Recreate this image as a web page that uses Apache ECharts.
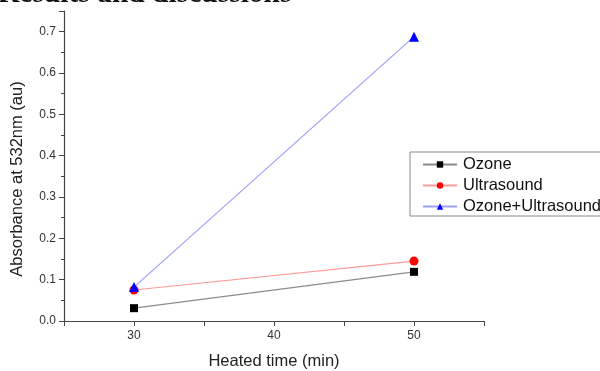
<!DOCTYPE html>
<html><head><meta charset="utf-8">
<script src="https://cdn.jsdelivr.net/npm/echarts@6/dist/echarts.min.js"></script>
<style>html,body{margin:0;padding:0;background:#fff}#c{width:600px;height:371px}</style>
</head><body><div id="c"></div>
<script>
var heatedTime = [30, 50];
var ozone = [0.031, 0.119];
var ultrasound = [0.075, 0.145];
var ozoneUltrasound = [0.082, 0.688];
var seriesNames = ['Ozone', 'Ultrasound', 'Ozone+Ultrasound'];
var xLabelTicks = [30, 40, 50];

function pairs(vals){ return heatedTime.map(function(t,i){ return [t, vals[i]]; }); }

var chart = echarts.init(document.getElementById('c'), null, {renderer:'canvas'});
var font = 'Liberation Sans';
chart.setOption({
  animation: false,
  backgroundColor: '#fff',
  graphic: [{
    type: 'text', left: -2, top: -21,
    style: { text: 'Results and discussions', font: 'bold 29.5px "Liberation Serif"', fill: '#111' }
  }],
  grid: { left: 64, right: 116, top: 11, bottom: 50, containLabel: false, outerBoundsMode: 'none' },
  legend: {
    orient: 'vertical', left: 410, top: 152,
    itemWidth: 34, itemHeight: 8, itemGap: 4,
    padding: [4, 12, 1, 12],
    borderColor: '#888', borderWidth: 1,
    textStyle: { fontFamily: font, fontSize: 16.5, color: '#111', padding: [0,0,0,1] },
    data: seriesNames
  },
  xAxis: {
    type: 'value', min: 25, max: 55, interval: 5,
    name: 'Heated time (min)', nameLocation: 'middle', nameGap: 32,
    nameTextStyle: { fontFamily: font, fontSize: 16.5, color: '#222' },
    axisLine: { lineStyle: { color: '#444', width: 1.2 } },
    axisTick: { inside: false, length: 5, lineStyle: { color: '#444' } },
    axisLabel: { fontFamily: font, fontSize: 12, color: '#333', margin: 9,
      formatter: function(v){ return xLabelTicks.indexOf(v) >= 0 ? String(v) : ''; } },
    splitLine: { show: false }
  },
  yAxis: {
    type: 'value', min: 0, max: 0.75, interval: 0.1,
    name: 'Absorbance at 532nm (au)', nameLocation: 'middle', nameGap: 38,
    nameTextStyle: { fontFamily: font, fontSize: 16.5, color: '#222', padding: [0, 26, 0, 0] },
    axisLine: { show: true, lineStyle: { color: '#444', width: 1.2 } },
    axisTick: { show: true, inside: false, length: 5, lineStyle: { color: '#444' } },
    minorTick: { show: true, splitNumber: 2, length: 3, lineStyle: { color: '#444' } },
    axisLabel: { fontFamily: font, fontSize: 12, color: '#333', margin: 8, showMaxLabel: false,
      formatter: function(v){ return v.toFixed(1); } },
    splitLine: { show: false }
  },
  series: [
    { name: seriesNames[0], type: 'line', data: pairs(ozone), symbol: 'rect', symbolSize: 8,
      lineStyle: { color: '#8c8c8c', width: 1.2 }, itemStyle: { color: '#000' } },
    { name: seriesNames[1], type: 'line', data: pairs(ultrasound), symbol: 'circle', symbolSize: 9,
      lineStyle: { color: '#ff9a9a', width: 1.2 }, itemStyle: { color: '#ff0000' } },
    { name: seriesNames[2], type: 'line', data: pairs(ozoneUltrasound), symbol: 'triangle', symbolSize: 10,
      lineStyle: { color: '#9e9eff', width: 1.2 }, itemStyle: { color: '#0000ff' } }
  ]
});
</script></body></html>
